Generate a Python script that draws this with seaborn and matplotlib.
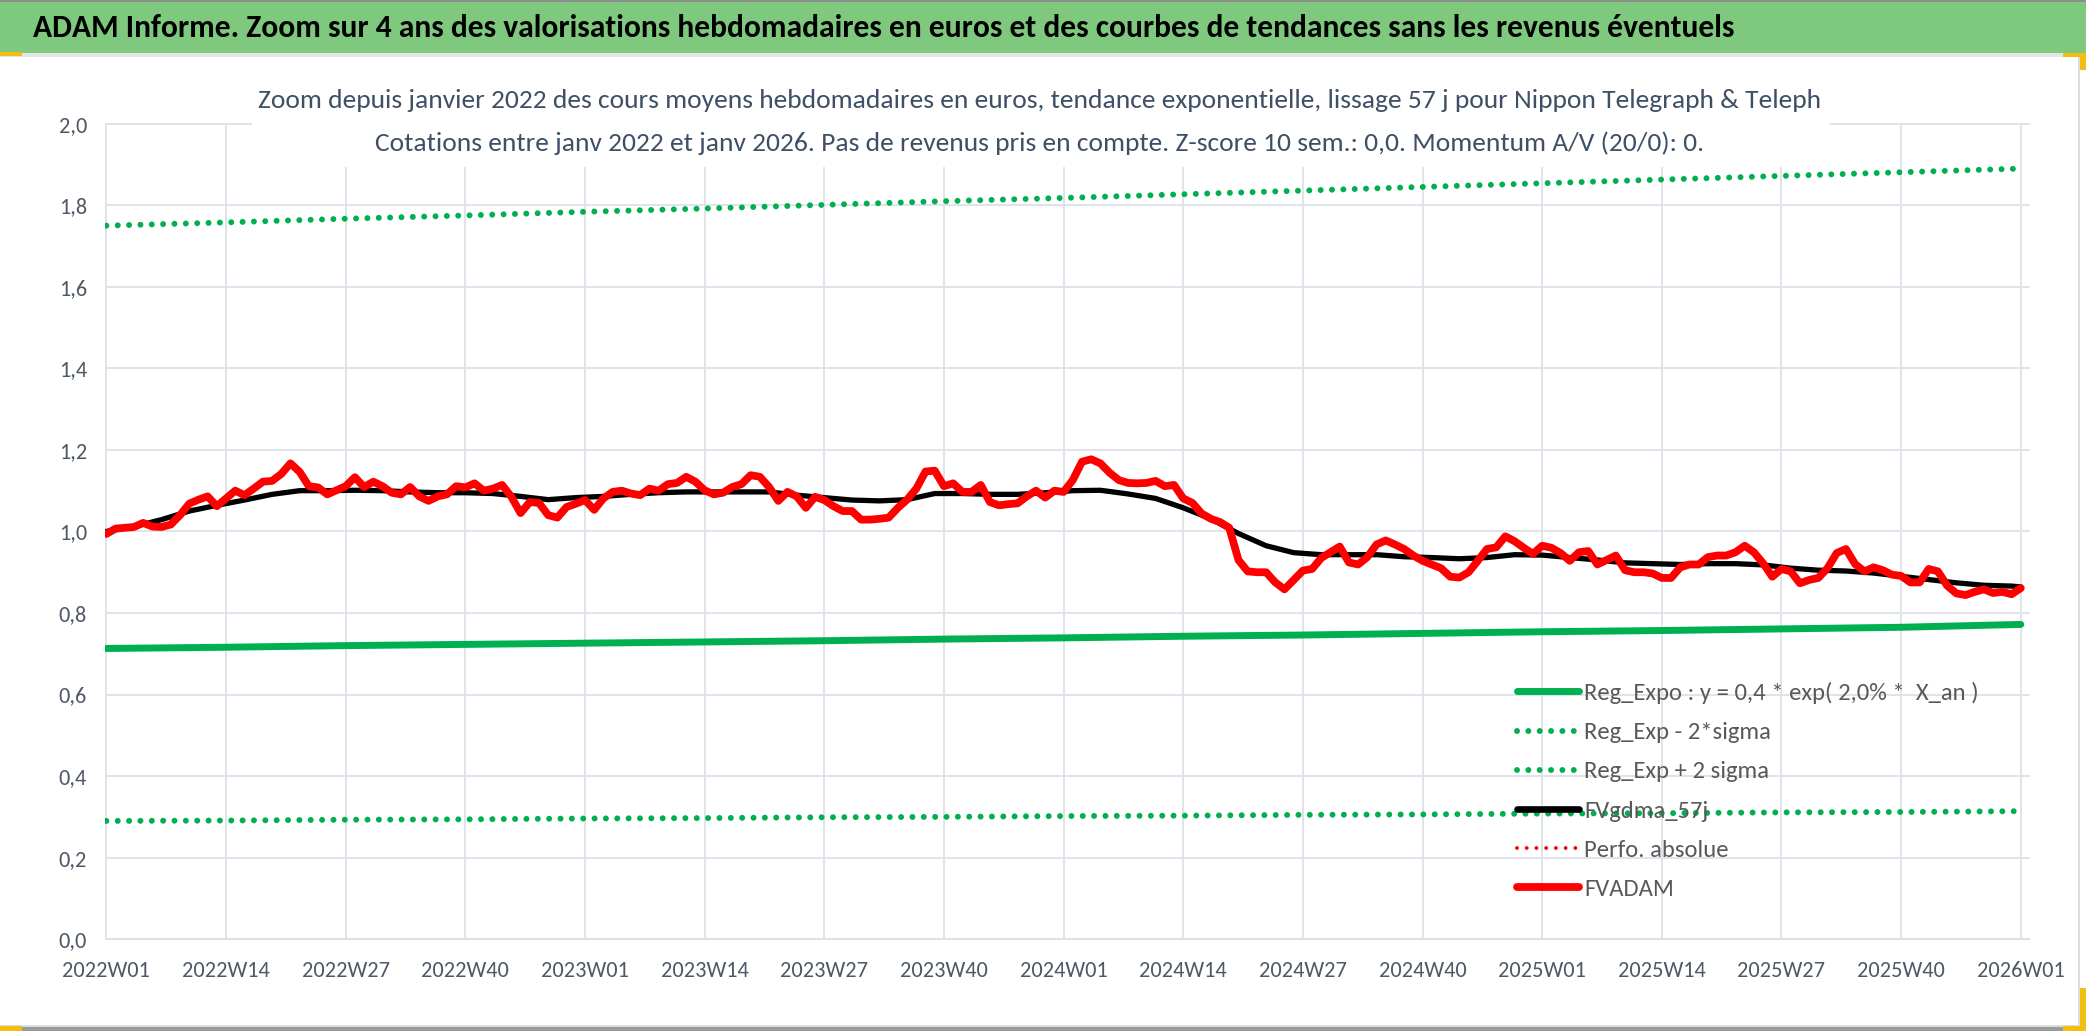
import numpy as np
import pandas as pd
import seaborn as sns
import matplotlib
matplotlib.use("Agg")
import matplotlib.pyplot as plt
from matplotlib import font_manager
from matplotlib.lines import Line2D
from matplotlib.patches import Rectangle

# ---- data ----
tick_weeks = [0, 13, 26, 39, 52, 65, 78, 91, 104, 117, 130, 143, 156, 169, 182, 195, 208]
tick_labels = ["2022W01", "2022W14", "2022W27", "2022W40", "2023W01", "2023W14", "2023W27",
               "2023W40", "2024W01", "2024W14", "2024W27", "2024W40", "2025W01", "2025W14",
               "2025W27", "2025W40", "2026W01"]

# trend lines, read at each tick week
reg_expo = [0.713, 0.716, 0.720, 0.723, 0.726, 0.729, 0.732, 0.736, 0.739, 0.743, 0.746,
            0.750, 0.754, 0.757, 0.761, 0.765, 0.772]
reg_plus = [1.750, 1.758, 1.767, 1.775, 1.784, 1.792, 1.801, 1.810, 1.818, 1.827, 1.836,
            1.845, 1.854, 1.863, 1.872, 1.881, 1.890]
reg_minus = [0.290, 0.291, 0.293, 0.294, 0.296, 0.297, 0.299, 0.300, 0.302, 0.303, 0.305,
             0.306, 0.308, 0.309, 0.311, 0.312, 0.314]

# FVgdma_57j, read every 3 weeks
gdma_weeks = [0, 3, 6, 9, 12, 15, 18, 21, 24, 27, 30, 33, 36, 39, 42, 45, 48, 51, 54, 57, 60,
              63, 66, 69, 72, 75, 78, 81, 84, 87, 90, 93, 96, 99, 102, 105, 108, 111, 114,
              117, 120, 123, 126, 129, 132, 135, 138, 141, 144, 147, 150, 153, 156, 159, 162,
              165, 168, 171, 174, 177, 180, 183, 186, 189, 192, 195, 198, 201, 204, 207, 208]
gdma = [1.000, 1.012, 1.029, 1.050, 1.064, 1.077, 1.091, 1.100, 1.100, 1.101, 1.100, 1.097,
        1.095, 1.095, 1.093, 1.086, 1.078, 1.083, 1.086, 1.091, 1.095, 1.097, 1.097, 1.097,
        1.097, 1.089, 1.083, 1.077, 1.075, 1.078, 1.093, 1.093, 1.091, 1.091, 1.095, 1.100,
        1.101, 1.092, 1.081, 1.058, 1.031, 0.995, 0.965, 0.948, 0.943, 0.943, 0.943, 0.938,
        0.936, 0.933, 0.936, 0.943, 0.942, 0.936, 0.930, 0.923, 0.921, 0.919, 0.921, 0.921,
        0.918, 0.910, 0.905, 0.903, 0.898, 0.890, 0.882, 0.874, 0.868, 0.866, 0.864]

# FVADAM, weekly from 2022W01 to 2026W01
fvadam = [
    0.994, 1.007, 1.009, 1.011, 1.021, 1.012, 1.011, 1.017, 1.040, 1.068,
    1.078, 1.086, 1.062, 1.081, 1.100, 1.089, 1.105, 1.122, 1.124, 1.141,
    1.167, 1.146, 1.111, 1.108, 1.091, 1.101, 1.111, 1.133, 1.109, 1.122,
    1.111, 1.095, 1.091, 1.109, 1.086, 1.075, 1.086, 1.091, 1.111, 1.108,
    1.118, 1.100, 1.105, 1.114, 1.085, 1.045, 1.072, 1.070, 1.040, 1.034,
    1.060, 1.068, 1.077, 1.053, 1.081, 1.097, 1.100, 1.093, 1.089, 1.105,
    1.100, 1.116, 1.119, 1.134, 1.122, 1.101, 1.091, 1.095, 1.109, 1.116,
    1.138, 1.134, 1.109, 1.075, 1.097, 1.086, 1.058, 1.085, 1.077, 1.062,
    1.050, 1.050, 1.029, 1.029, 1.031, 1.034, 1.058, 1.078, 1.105, 1.147,
    1.149, 1.111, 1.118, 1.097, 1.097, 1.114, 1.072, 1.064, 1.067, 1.069,
    1.086, 1.100, 1.083, 1.100, 1.097, 1.126, 1.171, 1.177, 1.167, 1.144,
    1.126, 1.119, 1.118, 1.119, 1.124, 1.111, 1.114, 1.081, 1.070, 1.044,
    1.031, 1.023, 1.009, 0.930, 0.902, 0.900, 0.900, 0.875, 0.858, 0.881,
    0.904, 0.908, 0.935, 0.949, 0.963, 0.924, 0.919, 0.937, 0.968, 0.978,
    0.968, 0.957, 0.941, 0.928, 0.919, 0.910, 0.889, 0.887, 0.900, 0.928,
    0.957, 0.961, 0.988, 0.976, 0.960, 0.945, 0.965, 0.960, 0.947, 0.928,
    0.949, 0.952, 0.919, 0.930, 0.941, 0.905, 0.900, 0.900, 0.897, 0.886,
    0.886, 0.912, 0.919, 0.919, 0.937, 0.941, 0.941, 0.949, 0.965, 0.949,
    0.922, 0.889, 0.908, 0.902, 0.873, 0.881, 0.886, 0.910, 0.947, 0.957,
    0.920, 0.902, 0.912, 0.905, 0.894, 0.891, 0.875, 0.875, 0.908, 0.902,
    0.867, 0.848, 0.844, 0.852, 0.858, 0.849, 0.852, 0.846, 0.861,
]
weeks = list(range(len(fvadam)))

banner = ("ADAM Informe. Zoom sur 4 ans des valorisations hebdomadaires en euros "
          "et des courbes de tendances sans les revenus éventuels")
sub1 = ("Zoom depuis janvier 2022 des cours moyens hebdomadaires en euros, tendance "
        "exponentielle, lissage 57 j pour Nippon Telegraph & Teleph")
sub2 = ("Cotations entre janv 2022 et janv 2026. Pas de revenus pris en compte. "
        "Z-score 10 sem.: 0,0. Momentum A/V (20/0): 0.")
legend_labels = ["Reg_Expo : y = 0,4 * exp( 2,0% *  X_an )", "Reg_Exp - 2*sigma",
                 "Reg_Exp + 2 sigma", "FVgdma_57j", "Perfo. absolue", "FVADAM"]

# ---- style ----
sns.set_theme(style="white")
avail = {f.name for f in font_manager.fontManager.ttflist}
FONT = "Open Sans"
for cand in ["Carlito", "Liberation Sans Narrow", "Open Sans"]:
    if cand in avail:
        FONT = cand
        break
plt.rcParams["font.family"] = [FONT, "DejaVu Sans"]

GREEN = "#00B050"
RED = "#FF0000"
GRID = "#DDE1E8"
TXT = "#4F5866"
DOT = dict(linestyle=(0, (0.001, 1.9)), dash_capstyle="round")

W, H = 2086, 1031
fig = plt.figure(figsize=(W / 100, H / 100), dpi=100)
fig.patch.set_facecolor("white")


def rect(x0, y0, x1, y1, color, z=0):
    fig.patches.append(Rectangle((x0 / W, 1 - y1 / H), (x1 - x0) / W, (y1 - y0) / H,
                                 transform=fig.transFigure, color=color, zorder=z, lw=0))


# banner and frame decorations
rect(0, 0, W, 53, "#7FC97F")
rect(0, 0, W, 2, "#8A8F8A")
rect(0, 53, 2080, 57, "#E3E5EA")
rect(2078, 57, 2080, 1027, "#DADDE2")
rect(0, 1025, 2080, 1027, "#DADDE2")
rect(0, 1027, W, H, "#9A9A9A")
rect(2063, 53, W, 57, "#F2BE12", 3)
rect(2080, 53, W, 70, "#F2BE12", 3)
rect(2080, 988, W, H, "#F2BE12", 3)
rect(2063, 1026, W, H, "#F2BE12", 3)
rect(0, 52, 22, 56, "#F2BE12", 3)
rect(0, 1026, 22, H, "#F2BE12", 3)

# ---- axes ----
ax = fig.add_axes([105 / W, 91 / H, 1925 / W, 817.5 / H])
ax.set_facecolor("none")

sns.lineplot(x=tick_weeks, y=reg_expo, ax=ax, color=GREEN, linewidth=5.0)
sns.lineplot(x=tick_weeks, y=reg_minus, ax=ax, color=GREEN, linewidth=4.3, **DOT)
sns.lineplot(x=tick_weeks, y=reg_plus, ax=ax, color=GREEN, linewidth=4.3, **DOT)
sns.lineplot(x=gdma_weeks, y=gdma, ax=ax, color="black", linewidth=3.8)
sns.lineplot(x=weeks, y=fvadam, ax=ax, color=RED, linewidth=5.6)

ax.set_xlim(-0.15, 209)
ax.set_ylim(-0.002, 2.003)
ax.set_xticks(tick_weeks)
ax.set_xticklabels(tick_labels)
ax.set_yticks(np.arange(0, 2.01, 0.2))
ax.set_yticklabels([f"{v:.1f}".replace(".", ",") for v in np.arange(0, 2.01, 0.2)])
ax.grid(True, color=GRID, linewidth=1.3)
ax.set_axisbelow(True)
for s in ax.spines.values():
    s.set_visible(False)
ax.axhline(0, color="#D3D7DE", linewidth=2.2, zorder=0.5)
ax.tick_params(axis="x", length=5, width=1.2, color=GRID, direction="out", pad=10,
               labelcolor=TXT, labelsize=16)
ax.tick_params(axis="y", length=0, pad=13, labelcolor=TXT, labelsize=16)
ax.set_xlabel("")
ax.set_ylabel("")

# white box behind the chart title
rect(252, 57, 1830, 167, "white", 2)

# ---- texts ----
r = fig.canvas.get_renderer()


def fit(t, target):
    w = t.get_window_extent(r).width
    t.set_fontsize(t.get_fontsize() * target / w)


t0 = fig.text(33 / W, 1 - 28 / H, banner, fontsize=22, fontweight="bold", color="black",
              ha="left", va="center", zorder=5)
fit(t0, 1697)
t1 = fig.text(1040 / W, 1 - 100 / H, sub1, fontsize=20, color="#3F4F66", ha="center",
              va="center", zorder=5)
fit(t1, 1560)
t2 = fig.text(1040 / W, 1 - 143 / H, sub2, fontsize=20, color="#3F4F66", ha="center",
              va="center", zorder=5)
fit(t2, 1326)

# ---- legend ----
handles = [
    Line2D([], [], color=GREEN, linewidth=5.0, solid_capstyle="round"),
    Line2D([], [], color=GREEN, linewidth=4.3, **DOT),
    Line2D([], [], color=GREEN, linewidth=4.3, **DOT),
    Line2D([], [], color="black", linewidth=4.8, solid_capstyle="round"),
    Line2D([], [], color=RED, linewidth=2.8, linestyle=(0, (0.001, 2.5)), dash_capstyle="round"),
    Line2D([], [], color=RED, linewidth=5.6, solid_capstyle="round"),
]

probe = fig.text(0, 0, legend_labels[0], fontsize=18)
fit(probe, 395)
lfs = probe.get_fontsize()
text_h = probe.get_window_extent(r).height
probe.remove()
fs_px = lfs * 100 / 72
spacing = (40 - text_h) / fs_px
top = 693 - text_h / 2

leg = ax.legend(handles, legend_labels, loc="upper left",
                bbox_to_anchor=(1517 / W, 1 - top / H), bbox_transform=fig.transFigure,
                frameon=False, fontsize=lfs, labelcolor="#595959", borderpad=0,
                borderaxespad=0, handlelength=62 / fs_px, handletextpad=5 / fs_px,
                labelspacing=spacing)
leg.set_zorder(10)

fig.savefig("out.png", dpi=100, facecolor="white")
